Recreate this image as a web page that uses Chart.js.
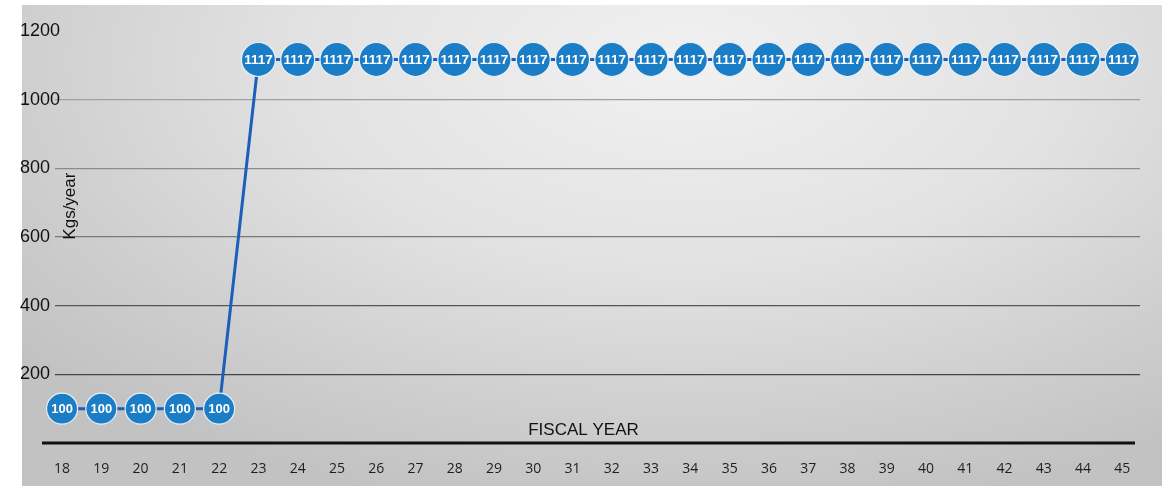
<!DOCTYPE html>
<html>
<head>
<meta charset="utf-8">
<script src="https://cdn.jsdelivr.net/npm/chart.js@4.4.1/dist/chart.umd.min.js"></script>
<style>
  html, body { margin: 0; padding: 0; background: #fff; }
  #paper {
    position: absolute; left: 22px; top: 5px; width: 1140px; height: 481px;
    background: radial-gradient(ellipse 75% 95% at 58% 12%, #f1f1f1 0%, #e2e2e2 45%, #cdcdcd 80%, #c2c2c2 100%);
  }
  #wrap { position: absolute; left: 0; top: 0; width: 1162px; height: 486px; }
</style>
</head>
<body>
<div id="paper"></div>
<div id="wrap"><canvas id="chart"></canvas></div>
<script>
// fiscal years (two-digit) along the bottom
const years = [18, 19, 20, 21, 22, 23, 24, 25, 26, 27, 28, 29, 30, 31,
  32, 33, 34, 35, 36, 37, 38, 39, 40, 41, 42, 43, 44, 45];
// Kgs/year for each fiscal year
const kgsPerYear = [100, 100, 100, 100, 100, 1117, 1117, 1117, 1117, 1117,
  1117, 1117, 1117, 1117, 1117, 1117, 1117, 1117, 1117, 1117, 1117, 1117,
  1117, 1117, 1117, 1117, 1117, 1117];
// y axis tick labels
const yTicks = [200, 400, 600, 800, 1000, 1200];

// gray shades of the horizontal rules (scan fades them towards the top)
const gridShades = { 200: "#454545", 400: "#555555", 600: "#7a7a7a", 800: "#8c8c8c", 1000: "#a0a0a0" };

// extra text and the heavy baseline, drawn over the chart area
const extrasPlugin = {
  id: "extras",
  beforeDatasetsDraw(chart) {
    const { ctx, chartArea, scales } = chart;
    const y0 = scales.y.getPixelForValue(0);
    ctx.save();
    ctx.strokeStyle = "#111";
    ctx.lineWidth = 3;
    ctx.beginPath();
    ctx.moveTo(chartArea.left - 13, y0);
    ctx.lineTo(chartArea.right - 5, y0);
    ctx.stroke();

    ctx.fillStyle = "#111";
    ctx.font = "17px 'Liberation Sans', Arial, sans-serif";
    ctx.textAlign = "center";
    ctx.textBaseline = "middle";
    ctx.fillText("FISCAL YEAR", (chartArea.left + chartArea.right) / 2 - 14, y0 - 13);

    ctx.translate(chartArea.left + 15, scales.y.getPixelForValue(690));
    ctx.rotate(-Math.PI / 2);
    ctx.font = "17px 'Liberation Sans', Arial, sans-serif";
    ctx.fillText("Kgs/year", 0, 0);
    ctx.restore();
  },
  afterDatasetsDraw(chart) {
    const { ctx } = chart;
    const meta = chart.getDatasetMeta(0);
    ctx.save();
    ctx.fillStyle = "#fff";
    ctx.textAlign = "center";
    ctx.textBaseline = "middle";
    meta.data.forEach((pt, i) => {
      const big = kgsPerYear[i] > 500;
      ctx.font = (big ? "bold 13.5px" : "bold 13px") + " 'Liberation Sans', Arial, sans-serif";
      ctx.fillText(String(kgsPerYear[i]), pt.x, pt.y + 1);
    });
    ctx.restore();
  }
};

const ctx = document.getElementById("chart").getContext("2d");
const chart = new Chart(ctx, {
  type: "line",
  data: {
    datasets: [
      {
        data: years.map((yr, i) => ({ x: yr, y: kgsPerYear[i] })),
        borderColor: "#1c5fb8",
        borderWidth: 3,
        pointRadius: (c) => (c.raw && c.raw.y > 500 ? 17 : 15.5),
        pointBackgroundColor: "#1a7dc6",
        pointBorderColor: "#e8f0f8",
        pointBorderWidth: 1.2,
        tension: 0,
        clip: false,
      },
    ],
  },
  options: {
    responsive: true,
    maintainAspectRatio: false,
    animation: false,
    events: [],
    layout: { padding: { left: 20, right: 22, top: 31, bottom: 0 } },
    plugins: {
      legend: { display: false },
      tooltip: { enabled: false },
    },
    scales: {
      x: {
        type: "linear",
        min: 17.82,
        max: 45.45,
        grid: { display: false },
        border: { display: false },
        afterFit(scale) { scale.height = 43; },
        ticks: {
          stepSize: 1,
          includeBounds: false,
          autoSkip: false,
          maxRotation: 0,
          padding: 10,
          color: "#1e1e1e",
          font: { family: "'Open Sans', 'Noto Sans', sans-serif", size: 14 },
          callback: (v) => (years.includes(v) ? String(v) : ""),
        },
      },
      y: {
        min: 0,
        max: 1200,
        afterFit(scale) { scale.width = 35; },
        afterBuildTicks(scale) {
          scale.ticks = [0].concat(yTicks).map((v) => ({ value: v }));
        },
        border: { display: false },
        grid: {
          drawTicks: false,
          lineWidth: 1.2,
          color: (c) => gridShades[c.tick.value] || "rgba(0,0,0,0)",
        },
        ticks: {
          mirror: true,
          padding: -35,
          color: "#111",
          font: { family: "'Liberation Sans', Arial, sans-serif", size: 18 },
          callback: (v) => (yTicks.includes(v) ? String(v) : ""),
        },
      },
    },
  },
  plugins: [extrasPlugin],
});
</script>
</body>
</html>
